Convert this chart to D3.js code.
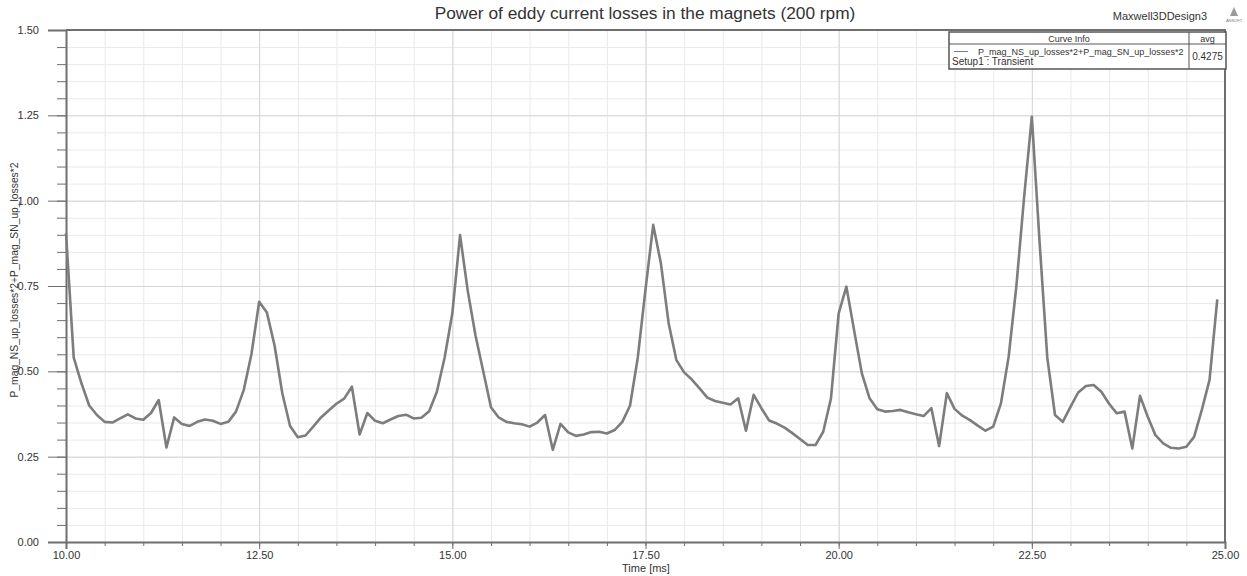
<!DOCTYPE html>
<html lang="en">
  <head>
    <meta charset="UTF-8" />
    <script src="https://d3js.org/d3.v7.min.js"></script>
    <style>
      body {
        margin: 0;
        background: #fff;
      }
      text {
        font-family: Arial, "Liberation Sans", sans-serif;
        fill: #333;
      }
      .grid-minor line {
        stroke: #e9e9e9;
        stroke-width: 1px;
      }
      .grid-major line {
        stroke: #d6d6d6;
        stroke-width: 1px;
      }
      .axis path,
      .axis line {
        stroke: #6f6f6f;
      }
    </style>
    <title>Eddy current losses</title>
  </head>
  <body>
    <svg id="chart" width="1247" height="576"></svg>
    <script>
      // data (step 0.1 ms)
      const timeMs = [
        10.0, 10.1, 10.2, 10.3, 10.4, 10.5, 10.6, 10.7, 10.8, 10.9,
        11.0, 11.1, 11.2, 11.3, 11.4, 11.5, 11.6, 11.7, 11.8, 11.9,
        12.0, 12.1, 12.2, 12.3, 12.4, 12.5, 12.6, 12.7, 12.8, 12.9,
        13.0, 13.1, 13.2, 13.3, 13.4, 13.5, 13.6, 13.7, 13.8, 13.9,
        14.0, 14.1, 14.2, 14.3, 14.4, 14.5, 14.6, 14.7, 14.8, 14.9,
        15.0, 15.1, 15.2, 15.3, 15.4, 15.5, 15.6, 15.7, 15.8, 15.9,
        16.0, 16.1, 16.2, 16.3, 16.4, 16.5, 16.6, 16.7, 16.8, 16.9,
        17.0, 17.1, 17.2, 17.3, 17.4, 17.5, 17.6, 17.7, 17.8, 17.9,
        18.0, 18.1, 18.2, 18.3, 18.4, 18.5, 18.6, 18.7, 18.8, 18.9,
        19.0, 19.1, 19.2, 19.3, 19.4, 19.5, 19.6, 19.7, 19.8, 19.9,
        20.0, 20.1, 20.2, 20.3, 20.4, 20.5, 20.6, 20.7, 20.8, 20.9,
        21.0, 21.1, 21.2, 21.3, 21.4, 21.5, 21.6, 21.7, 21.8, 21.9,
        22.0, 22.1, 22.2, 22.3, 22.4, 22.5, 22.6, 22.7, 22.8, 22.9,
        23.0, 23.1, 23.2, 23.3, 23.4, 23.5, 23.6, 23.7, 23.8, 23.9,
        24.0, 24.1, 24.2, 24.3, 24.4, 24.5, 24.6, 24.7, 24.8, 24.9,
      ];
      const lossValues = [
        0.905, 0.54, 0.465, 0.4, 0.372, 0.352, 0.35, 0.362, 0.374, 0.362,
        0.358, 0.378, 0.416, 0.277, 0.365, 0.346, 0.34, 0.352, 0.359, 0.355,
        0.346, 0.352, 0.382, 0.445, 0.55, 0.704, 0.672, 0.575, 0.435, 0.34,
        0.307, 0.312, 0.338, 0.365, 0.385, 0.405, 0.42, 0.455, 0.315, 0.378,
        0.355, 0.348, 0.359, 0.369, 0.373, 0.362, 0.364, 0.383, 0.44, 0.54,
        0.67, 0.899, 0.735, 0.605, 0.5, 0.395, 0.365, 0.352, 0.348, 0.345,
        0.338, 0.35, 0.372, 0.27, 0.346, 0.321, 0.311, 0.315, 0.322, 0.323,
        0.318, 0.328, 0.352, 0.4, 0.54, 0.74, 0.929, 0.815, 0.64, 0.533,
        0.497, 0.476, 0.45, 0.423, 0.413, 0.408, 0.403, 0.421, 0.326, 0.431,
        0.392, 0.356, 0.347, 0.335, 0.319, 0.302, 0.284, 0.284, 0.323, 0.42,
        0.67, 0.748, 0.62, 0.494, 0.421, 0.389, 0.382, 0.384, 0.387, 0.38,
        0.374, 0.369, 0.392, 0.281, 0.436, 0.39, 0.37, 0.357, 0.341, 0.326,
        0.338, 0.406, 0.543, 0.75, 1.01, 1.246, 0.88, 0.54, 0.372, 0.352,
        0.396, 0.438, 0.457, 0.46, 0.44, 0.405, 0.377, 0.382, 0.274, 0.428,
        0.367, 0.313, 0.289, 0.276, 0.274, 0.279, 0.308, 0.387, 0.475, 0.711,
      ];
      const xTickLabels = [10, 12.5, 15, 17.5, 20, 22.5, 25];
      const yTickLabels = [0, 0.25, 0.5, 0.75, 1.0, 1.25, 1.5];
      const curveName = "P_mag_NS_up_losses*2+P_mag_SN_up_losses*2";
      const curveAvg = "0.4275";

      const svg = d3.select("#chart");
      const margin = { top: 30, right: 22, bottom: 34, left: 66 };
      const width = +svg.attr("width") - margin.left - margin.right;
      const height = +svg.attr("height") - margin.top - margin.bottom;

      const x = d3.scaleLinear().domain([10, 25]).range([0, width]);
      const y = d3.scaleLinear().domain([0, 1.5]).range([height, 0]);

      const xMinor = d3.range(10, 25.001, 0.5);
      const yMinor = d3.range(0, 1.5001, 0.05);

      const plot = svg
        .append("g")
        .attr("transform", `translate(${margin.left},${margin.top})`);

      // grid lines
      plot
        .append("g")
        .attr("class", "grid-minor")
        .attr("transform", `translate(0,${height})`)
        .call(d3.axisBottom(x).tickValues(xMinor).tickSize(-height).tickFormat(""))
        .call((g) => g.select(".domain").remove());
      plot
        .append("g")
        .attr("class", "grid-minor")
        .call(d3.axisLeft(y).tickValues(yMinor).tickSize(-width).tickFormat(""))
        .call((g) => g.select(".domain").remove());
      plot
        .append("g")
        .attr("class", "grid-major")
        .attr("transform", `translate(0,${height})`)
        .call(d3.axisBottom(x).tickValues(xTickLabels).tickSize(-height).tickFormat(""))
        .call((g) => g.select(".domain").remove());
      plot
        .append("g")
        .attr("class", "grid-major")
        .call(d3.axisLeft(y).tickValues(yTickLabels).tickSize(-width).tickFormat(""))
        .call((g) => g.select(".domain").remove());

      // frame top / right
      plot
        .append("path")
        .attr("d", `M0,0H${width}V${height}`)
        .attr("fill", "none")
        .attr("stroke", "#6f6f6f")
        .attr("stroke-width", 2);

      // minor ticks
      plot
        .append("g")
        .attr("class", "axis")
        .call(d3.axisLeft(y).tickValues(yMinor).tickSize(9).tickFormat(""))
        .call((g) => g.select(".domain").remove());
      plot
        .append("g")
        .attr("class", "axis")
        .attr("transform", `translate(0,${height})`)
        .call(d3.axisBottom(x).tickValues(xMinor).tickSize(4).tickFormat(""))
        .call((g) => g.select(".domain").remove());

      // major axes
      const yAxis = plot
        .append("g")
        .attr("class", "axis")
        .call(
          d3
            .axisLeft(y)
            .tickValues(yTickLabels)
            .tickSize(18)
            .tickPadding(9)
            .tickFormat(d3.format(".2f"))
        );
      yAxis.select(".domain").attr("stroke-width", 2);
      yAxis.selectAll("text").style("font-size", "11px");

      const xAxis = plot
        .append("g")
        .attr("class", "axis")
        .attr("transform", `translate(0,${height})`)
        .call(
          d3
            .axisBottom(x)
            .tickValues(xTickLabels)
            .tickSize(7)
            .tickPadding(2)
            .tickFormat(d3.format(".2f"))
        );
      xAxis.select(".domain").attr("stroke-width", 2);
      xAxis.selectAll("text").style("font-size", "11px");

      // curve
      const line = d3
        .line()
        .x((d, i) => x(timeMs[i]))
        .y((d) => y(d));
      plot
        .append("path")
        .datum(lossValues)
        .attr("d", line)
        .attr("fill", "none")
        .attr("stroke", "#7d7d7d")
        .attr("stroke-width", 2.6)
        .attr("stroke-linejoin", "round");

      // titles
      svg
        .append("text")
        .attr("x", 645)
        .attr("y", 19)
        .attr("text-anchor", "middle")
        .style("font-size", "17.3px")
        .text("Power of eddy current losses in the magnets (200 rpm)");
      svg
        .append("text")
        .attr("x", 1207)
        .attr("y", 20)
        .attr("text-anchor", "end")
        .style("font-size", "11px")
        .text("Maxwell3DDesign3");
      // small logo mark
      svg
        .append("path")
        .attr("d", "M1230,16 L1234,7 L1238,16 Z")
        .attr("fill", "#9a9a9a");
      svg
        .append("text")
        .attr("x", 1234)
        .attr("y", 22)
        .attr("text-anchor", "middle")
        .style("font-size", "4px")
        .style("fill", "#777")
        .text("ANSOFT");

      svg
        .append("text")
        .attr("x", 646)
        .attr("y", 572)
        .attr("text-anchor", "middle")
        .style("font-size", "11px")
        .text("Time [ms]");
      svg
        .append("text")
        .attr("transform", "translate(18,280) rotate(-90)")
        .attr("text-anchor", "middle")
        .style("font-size", "10.3px")
        .text(curveName);

      // curve info box
      const box = svg.append("g").attr("transform", "translate(949,32)");
      const boxW = 277,
        boxH = 37,
        colX = 240,
        headH = 12;
      box
        .append("rect")
        .attr("width", boxW)
        .attr("height", boxH)
        .attr("fill", "#fff")
        .attr("stroke", "#555")
        .attr("stroke-width", 1.5);
      box
        .append("line")
        .attr("x1", 0)
        .attr("x2", boxW)
        .attr("y1", headH)
        .attr("y2", headH)
        .attr("stroke", "#555");
      box
        .append("line")
        .attr("x1", colX)
        .attr("x2", colX)
        .attr("y1", 0)
        .attr("y2", boxH)
        .attr("stroke", "#555");
      box
        .append("text")
        .attr("x", colX / 2)
        .attr("y", 9.5)
        .attr("text-anchor", "middle")
        .style("font-size", "9px")
        .text("Curve Info");
      box
        .append("text")
        .attr("x", (colX + boxW) / 2)
        .attr("y", 9.5)
        .attr("text-anchor", "middle")
        .style("font-size", "9px")
        .text("avg");
      box
        .append("line")
        .attr("x1", 5)
        .attr("x2", 19)
        .attr("y1", 19.5)
        .attr("y2", 19.5)
        .attr("stroke", "#7d7d7d");
      box
        .append("text")
        .attr("x", 29)
        .attr("y", 22.5)
        .style("font-size", "9px")
        .text(curveName);
      box
        .append("text")
        .attr("x", 3)
        .attr("y", 33)
        .style("font-size", "10px")
        .text("Setup1 : Transient");
      box
        .append("text")
        .attr("x", (colX + boxW) / 2)
        .attr("y", 28)
        .attr("text-anchor", "middle")
        .style("font-size", "10px")
        .text(curveAvg);
    </script>
  </body>
</html>
